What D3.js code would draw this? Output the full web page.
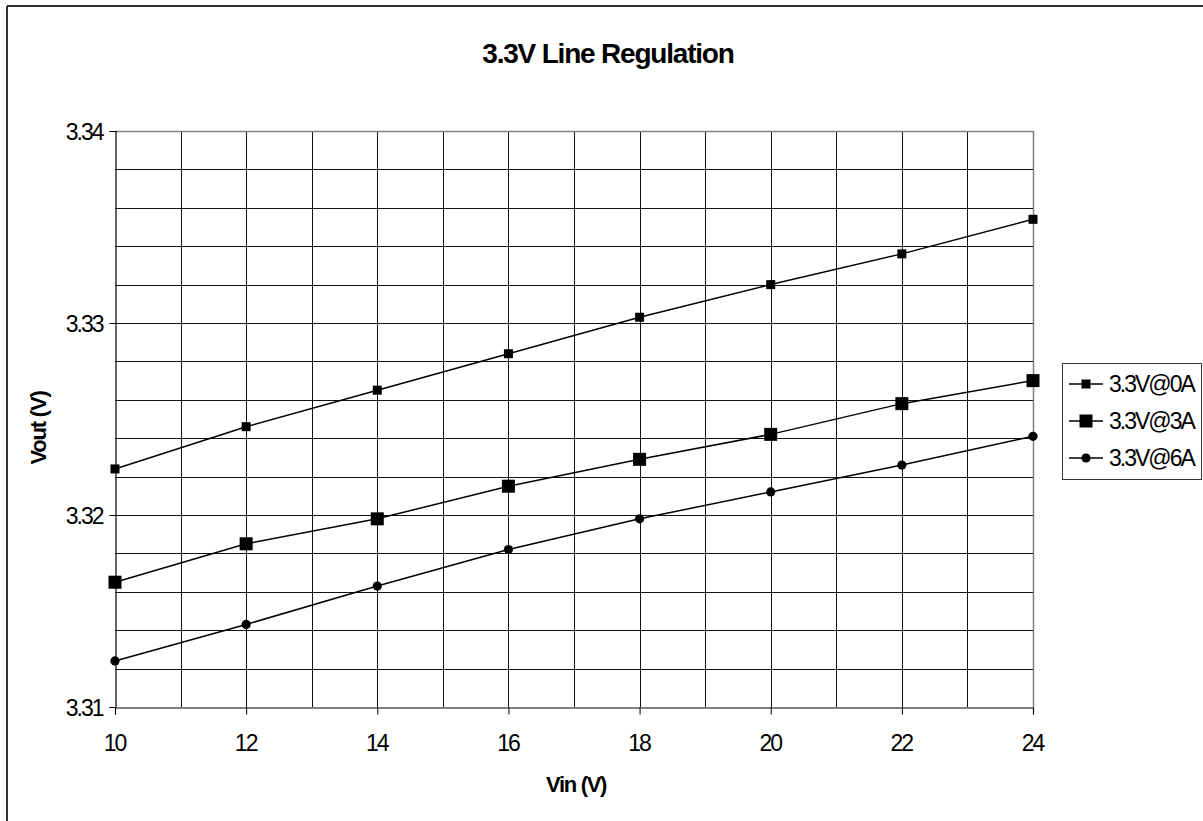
<!DOCTYPE html>
<html>
<head>
<meta charset="utf-8">
<script src="https://cdn.jsdelivr.net/npm/d3@7"></script>
<style>
  html, body { margin: 0; padding: 0; background: #fff; }
  text { font-family: "Liberation Sans", Arial, sans-serif; }
</style>
</head>
<body>
<svg id="chart" width="1203" height="821"></svg>
<script>
const vin = [10, 12, 14, 16, 18, 20, 22, 24];
const series0A = [3.3224, 3.3246, 3.3265, 3.3284, 3.3303, 3.3320, 3.3336, 3.3354];
const series3A = [3.3165, 3.3185, 3.3198, 3.3215, 3.3229, 3.3242, 3.3258, 3.3270];
const series6A = [3.3124, 3.3143, 3.3163, 3.3182, 3.3198, 3.3212, 3.3226, 3.3241];
const seriesNames = ["3.3V@0A", "3.3V@3A", "3.3V@6A"];
const xTicks = [10, 12, 14, 16, 18, 20, 22, 24];
const yTicks = [3.31, 3.32, 3.33, 3.34];

const svg = d3.select("#chart");
svg.append("rect").attr("width", 1203).attr("height", 821).attr("fill", "#fff");

// outer frame (left & top visible)
svg.append("line").attr("x1", 7).attr("y1", 6).attr("x2", 1203).attr("y2", 6)
  .attr("stroke", "#333").attr("stroke-width", 2);
svg.append("line").attr("x1", 7).attr("y1", 6).attr("x2", 7).attr("y2", 821)
  .attr("stroke", "#333").attr("stroke-width", 2);

const x = d3.scaleLinear().domain([10, 24]).range([115, 1033]);
const y = d3.scaleLinear().domain([3.31, 3.34]).range([707, 131]);

const g = svg.append("g");

// gridlines
const vGrid = d3.range(11, 25, 1);
g.selectAll(".vg").data(vGrid).enter().append("line")
  .attr("x1", d => Math.round(x(d)) + 0.5).attr("x2", d => Math.round(x(d)) + 0.5)
  .attr("y1", y(3.34)).attr("y2", y(3.31))
  .attr("stroke", d => d === 24 ? "#808080" : "#111").attr("stroke-width", d => d === 24 ? 1.5 : 1);
const hGrid = d3.range(0, 16).map(i => 3.31 + i * 0.002).filter(v => v > 3.3101);
g.selectAll(".hg").data(hGrid).enter().append("line")
  .attr("x1", x(10)).attr("x2", x(24))
  .attr("y1", d => Math.round(y(d)) + 0.5).attr("y2", d => Math.round(y(d)) + 0.5)
  .attr("stroke", (d, i) => i === hGrid.length - 1 ? "#808080" : "#111")
  .attr("stroke-width", (d, i) => i === hGrid.length - 1 ? 1.5 : 1);

// axes
const yAxis = d3.axisLeft(y).tickValues(yTicks).tickSize(6).tickPadding(9)
  .tickFormat(d3.format(".2f"));
const xAxis = d3.axisBottom(x).tickValues(xTicks).tickSize(7).tickPadding(20)
  .tickFormat(d3.format("d"));

const ya = svg.append("g").attr("transform", "translate(115.5,0)").call(yAxis);
const xa = svg.append("g").attr("transform", "translate(0,707.5)").call(xAxis);
[ya, xa].forEach(a => {
  a.select(".domain").attr("stroke", "#000").attr("stroke-width", 1.2);
  a.selectAll(".tick line").attr("stroke", "#000");
  a.selectAll(".tick text").attr("fill", "#000")
    .style("font-size", "23px").style("letter-spacing", "-2px")
    .style("font-family", "'Liberation Sans', Arial, sans-serif");
});
ya.selectAll(".tick text").attr("dy", "0.36em").attr("x", -13);
xa.selectAll(".tick text").attr("dy", "0.71em").attr("dx", "-1");

// lines and markers
const line = d3.line().x((d, i) => x(vin[i])).y(d => y(d));
const allSeries = [series0A, series3A, series6A];
allSeries.forEach(s => {
  svg.append("path").datum(s).attr("d", line)
    .attr("fill", "none").attr("stroke", "#000").attr("stroke-width", 1.5);
});

function marker(sel, type) {
  if (type === 0) {
    sel.append("rect").attr("x", -4.5).attr("y", -4.5).attr("width", 9).attr("height", 9).attr("fill", "#000");
  } else if (type === 1) {
    sel.append("rect").attr("x", -6.5).attr("y", -6.5).attr("width", 13).attr("height", 13).attr("fill", "#000");
  } else {
    sel.append("circle").attr("r", 4.6).attr("fill", "#000");
  }
}
allSeries.forEach((s, k) => {
  s.forEach((v, i) => {
    const m = svg.append("g").attr("transform", `translate(${x(vin[i])},${y(v)})`);
    marker(m, k);
  });
});

// title
svg.append("text").attr("x", 608).attr("y", 63).attr("text-anchor", "middle")
  .style("font-size", "28px").style("font-weight", "bold").style("letter-spacing", "-1.2px")
  .text("3.3V Line Regulation");

// axis titles
svg.append("text").attr("x", 576).attr("y", 792).attr("text-anchor", "middle")
  .style("font-size", "22px").style("font-weight", "bold").style("letter-spacing", "-1.3px")
  .text("Vin (V)");
svg.append("text").attr("transform", "translate(46,428) rotate(-90)").attr("text-anchor", "middle")
  .style("font-size", "22px").style("font-weight", "bold").style("letter-spacing", "-1.2px")
  .text("Vout (V)");

// legend
const lg = svg.append("g");
lg.append("rect").attr("x", 1062.5).attr("y", 363.5).attr("width", 139).attr("height", 116)
  .attr("fill", "#fff").attr("stroke", "#333").attr("stroke-width", 1);
seriesNames.forEach((n, k) => {
  const cy = 384 + k * 37;
  lg.append("line").attr("x1", 1069).attr("x2", 1103).attr("y1", cy).attr("y2", cy)
    .attr("stroke", "#000").attr("stroke-width", 1.5);
  const m = lg.append("g").attr("transform", `translate(1086,${cy})`);
  marker(m, k);
  lg.append("text").attr("x", 1109).attr("y", cy).attr("dy", "0.36em")
    .style("font-size", "23px").style("letter-spacing", "-2px").text(n);
});
</script>
</body>
</html>
